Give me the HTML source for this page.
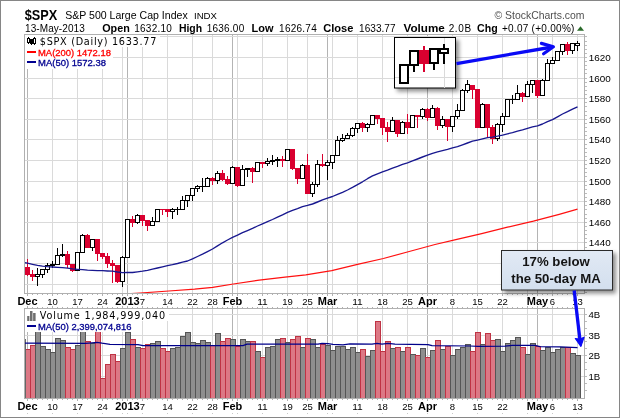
<!DOCTYPE html>
<html lang="en"><head><meta charset="utf-8"><title>$SPX S&amp;P 500 Large Cap Index</title>
<style>html,body{margin:0;padding:0;background:#fff;overflow:hidden}body{width:620px;height:418px}svg{will-change:transform}svg text{white-space:pre}</style></head>
<body>
<svg width="620" height="418" viewBox="0 0 620 418" style="display:block">
<defs>
<filter id="sh" x="-20%" y="-20%" width="150%" height="160%"><feGaussianBlur in="SourceAlpha" stdDeviation="2"/><feOffset dx="2.5" dy="2.5"/><feComponentTransfer><feFuncA type="linear" slope="0.45"/></feComponentTransfer><feMerge><feMergeNode/><feMergeNode in="SourceGraphic"/></feMerge></filter>
<linearGradient id="bg" x1="0" y1="0" x2="0" y2="1"><stop offset="0" stop-color="#e1e9f4"/><stop offset="1" stop-color="#d3dfee"/></linearGradient>
<clipPath id="cm"><rect x="25" y="35" width="559" height="258"/></clipPath>
<clipPath id="cv"><rect x="25" y="309" width="559" height="89"/></clipPath>
</defs>
<rect x="0" y="0" width="620" height="418" fill="#fff"/>
<rect x="0.5" y="0.5" width="619" height="417" fill="none" stroke="#868686" stroke-width="1" shape-rendering="crispEdges"/>
<g shape-rendering="crispEdges">
<rect x="27" y="35" width="1" height="258" fill="#b4b4b4"/>
<rect x="52" y="35" width="1" height="258" fill="#dadada"/>
<rect x="77" y="35" width="1" height="258" fill="#dadada"/>
<rect x="102" y="35" width="1" height="258" fill="#dadada"/>
<rect x="122" y="35" width="1" height="258" fill="#dadada"/>
<rect x="127" y="35" width="1" height="258" fill="#b4b4b4"/>
<rect x="142" y="35" width="1" height="258" fill="#dadada"/>
<rect x="167" y="35" width="1" height="258" fill="#dadada"/>
<rect x="192" y="35" width="1" height="258" fill="#dadada"/>
<rect x="212" y="35" width="1" height="258" fill="#dadada"/>
<rect x="232" y="35" width="1" height="258" fill="#b4b4b4"/>
<rect x="237" y="35" width="1" height="258" fill="#dadada"/>
<rect x="262" y="35" width="1" height="258" fill="#dadada"/>
<rect x="287" y="35" width="1" height="258" fill="#dadada"/>
<rect x="307" y="35" width="1" height="258" fill="#dadada"/>
<rect x="327" y="35" width="1" height="258" fill="#b4b4b4"/>
<rect x="332" y="35" width="1" height="258" fill="#dadada"/>
<rect x="357" y="35" width="1" height="258" fill="#dadada"/>
<rect x="382" y="35" width="1" height="258" fill="#dadada"/>
<rect x="407" y="35" width="1" height="258" fill="#dadada"/>
<rect x="427" y="35" width="1" height="258" fill="#b4b4b4"/>
<rect x="452" y="35" width="1" height="258" fill="#dadada"/>
<rect x="477" y="35" width="1" height="258" fill="#dadada"/>
<rect x="502" y="35" width="1" height="258" fill="#dadada"/>
<rect x="527" y="35" width="1" height="258" fill="#dadada"/>
<rect x="537" y="35" width="1" height="258" fill="#b4b4b4"/>
<rect x="552" y="35" width="1" height="258" fill="#dadada"/>
<rect x="577" y="35" width="1" height="258" fill="#dadada"/>
<rect x="27" y="309" width="1" height="89" fill="#b4b4b4"/>
<rect x="52" y="309" width="1" height="89" fill="#dadada"/>
<rect x="77" y="309" width="1" height="89" fill="#dadada"/>
<rect x="102" y="309" width="1" height="89" fill="#dadada"/>
<rect x="122" y="309" width="1" height="89" fill="#dadada"/>
<rect x="127" y="309" width="1" height="89" fill="#b4b4b4"/>
<rect x="142" y="309" width="1" height="89" fill="#dadada"/>
<rect x="167" y="309" width="1" height="89" fill="#dadada"/>
<rect x="192" y="309" width="1" height="89" fill="#dadada"/>
<rect x="212" y="309" width="1" height="89" fill="#dadada"/>
<rect x="232" y="309" width="1" height="89" fill="#b4b4b4"/>
<rect x="237" y="309" width="1" height="89" fill="#dadada"/>
<rect x="262" y="309" width="1" height="89" fill="#dadada"/>
<rect x="287" y="309" width="1" height="89" fill="#dadada"/>
<rect x="307" y="309" width="1" height="89" fill="#dadada"/>
<rect x="327" y="309" width="1" height="89" fill="#b4b4b4"/>
<rect x="332" y="309" width="1" height="89" fill="#dadada"/>
<rect x="357" y="309" width="1" height="89" fill="#dadada"/>
<rect x="382" y="309" width="1" height="89" fill="#dadada"/>
<rect x="407" y="309" width="1" height="89" fill="#dadada"/>
<rect x="427" y="309" width="1" height="89" fill="#b4b4b4"/>
<rect x="452" y="309" width="1" height="89" fill="#dadada"/>
<rect x="477" y="309" width="1" height="89" fill="#dadada"/>
<rect x="502" y="309" width="1" height="89" fill="#dadada"/>
<rect x="527" y="309" width="1" height="89" fill="#dadada"/>
<rect x="537" y="309" width="1" height="89" fill="#b4b4b4"/>
<rect x="552" y="309" width="1" height="89" fill="#dadada"/>
<rect x="577" y="309" width="1" height="89" fill="#dadada"/>
<rect x="25" y="284" width="559" height="1" fill="#dadada"/>
<rect x="25" y="263" width="559" height="1" fill="#dadada"/>
<rect x="25" y="242" width="559" height="1" fill="#dadada"/>
<rect x="25" y="222" width="559" height="1" fill="#dadada"/>
<rect x="25" y="201" width="559" height="1" fill="#dadada"/>
<rect x="25" y="181" width="559" height="1" fill="#dadada"/>
<rect x="25" y="160" width="559" height="1" fill="#dadada"/>
<rect x="25" y="139" width="559" height="1" fill="#dadada"/>
<rect x="25" y="119" width="559" height="1" fill="#dadada"/>
<rect x="25" y="98" width="559" height="1" fill="#dadada"/>
<rect x="25" y="78" width="559" height="1" fill="#dadada"/>
<rect x="25" y="57" width="559" height="1" fill="#dadada"/>
<rect x="25" y="36" width="559" height="1" fill="#dadada"/>
<rect x="25" y="376" width="559" height="1" fill="#dadada"/>
<rect x="25" y="355" width="559" height="1" fill="#dadada"/>
<rect x="25" y="335" width="559" height="1" fill="#dadada"/>
<rect x="25" y="314" width="559" height="1" fill="#dadada"/>
</g>
<g clip-path="url(#cv)" shape-rendering="crispEdges">
<rect x="25.5" y="349.5" width="5" height="49" fill="#dc7885" stroke="#bf3344" stroke-width="1"/>
<rect x="30.5" y="345.5" width="5" height="53" fill="#dc7885" stroke="#bf3344" stroke-width="1"/>
<rect x="35.5" y="330.5" width="5" height="68" fill="#8e8e8e" stroke="#555555" stroke-width="1"/>
<rect x="40.5" y="346.5" width="5" height="52" fill="#8e8e8e" stroke="#555555" stroke-width="1"/>
<rect x="45.5" y="349.5" width="5" height="49" fill="#8e8e8e" stroke="#555555" stroke-width="1"/>
<rect x="50.5" y="352.5" width="5" height="46" fill="#8e8e8e" stroke="#555555" stroke-width="1"/>
<rect x="55.5" y="338.5" width="5" height="60" fill="#8e8e8e" stroke="#555555" stroke-width="1"/>
<rect x="60.5" y="340.5" width="5" height="58" fill="#8e8e8e" stroke="#555555" stroke-width="1"/>
<rect x="65.5" y="347.5" width="5" height="51" fill="#dc7885" stroke="#bf3344" stroke-width="1"/>
<rect x="70.5" y="349.5" width="5" height="49" fill="#dc7885" stroke="#bf3344" stroke-width="1"/>
<rect x="75.5" y="345.5" width="5" height="53" fill="#8e8e8e" stroke="#555555" stroke-width="1"/>
<rect x="80.5" y="330.5" width="5" height="68" fill="#8e8e8e" stroke="#555555" stroke-width="1"/>
<rect x="85.5" y="341.5" width="5" height="57" fill="#dc7885" stroke="#bf3344" stroke-width="1"/>
<rect x="90.5" y="343.5" width="5" height="55" fill="#8e8e8e" stroke="#555555" stroke-width="1"/>
<rect x="95.5" y="330.5" width="5" height="68" fill="#dc7885" stroke="#bf3344" stroke-width="1"/>
<rect x="100.5" y="378.5" width="5" height="20" fill="#dc7885" stroke="#bf3344" stroke-width="1"/>
<rect x="105.5" y="364.5" width="5" height="34" fill="#dc7885" stroke="#bf3344" stroke-width="1"/>
<rect x="110.5" y="354.5" width="5" height="44" fill="#dc7885" stroke="#bf3344" stroke-width="1"/>
<rect x="115.5" y="361.5" width="5" height="37" fill="#dc7885" stroke="#bf3344" stroke-width="1"/>
<rect x="120.5" y="348.5" width="5" height="50" fill="#8e8e8e" stroke="#555555" stroke-width="1"/>
<rect x="125.5" y="332.5" width="5" height="66" fill="#8e8e8e" stroke="#555555" stroke-width="1"/>
<rect x="130.5" y="339.5" width="5" height="59" fill="#dc7885" stroke="#bf3344" stroke-width="1"/>
<rect x="135.5" y="347.5" width="5" height="51" fill="#8e8e8e" stroke="#555555" stroke-width="1"/>
<rect x="140.5" y="348.5" width="5" height="50" fill="#dc7885" stroke="#bf3344" stroke-width="1"/>
<rect x="145.5" y="344.5" width="5" height="54" fill="#dc7885" stroke="#bf3344" stroke-width="1"/>
<rect x="150.5" y="343.5" width="5" height="55" fill="#8e8e8e" stroke="#555555" stroke-width="1"/>
<rect x="155.5" y="341.5" width="5" height="57" fill="#8e8e8e" stroke="#555555" stroke-width="1"/>
<rect x="160.5" y="348.5" width="5" height="50" fill="#dc7885" stroke="#bf3344" stroke-width="1"/>
<rect x="165.5" y="351.5" width="5" height="47" fill="#dc7885" stroke="#bf3344" stroke-width="1"/>
<rect x="170.5" y="348.5" width="5" height="50" fill="#8e8e8e" stroke="#555555" stroke-width="1"/>
<rect x="175.5" y="347.5" width="5" height="51" fill="#8e8e8e" stroke="#555555" stroke-width="1"/>
<rect x="180.5" y="336.5" width="5" height="62" fill="#8e8e8e" stroke="#555555" stroke-width="1"/>
<rect x="185.5" y="332.5" width="5" height="66" fill="#8e8e8e" stroke="#555555" stroke-width="1"/>
<rect x="190.5" y="342.5" width="5" height="56" fill="#8e8e8e" stroke="#555555" stroke-width="1"/>
<rect x="195.5" y="343.5" width="5" height="55" fill="#8e8e8e" stroke="#555555" stroke-width="1"/>
<rect x="200.5" y="340.5" width="5" height="58" fill="#8e8e8e" stroke="#555555" stroke-width="1"/>
<rect x="205.5" y="342.5" width="5" height="56" fill="#8e8e8e" stroke="#555555" stroke-width="1"/>
<rect x="210.5" y="345.5" width="5" height="53" fill="#dc7885" stroke="#bf3344" stroke-width="1"/>
<rect x="215.5" y="333.5" width="5" height="65" fill="#8e8e8e" stroke="#555555" stroke-width="1"/>
<rect x="220.5" y="341.5" width="5" height="57" fill="#dc7885" stroke="#bf3344" stroke-width="1"/>
<rect x="225.5" y="338.5" width="5" height="60" fill="#dc7885" stroke="#bf3344" stroke-width="1"/>
<rect x="230.5" y="339.5" width="5" height="59" fill="#8e8e8e" stroke="#555555" stroke-width="1"/>
<rect x="235.5" y="346.5" width="5" height="52" fill="#dc7885" stroke="#bf3344" stroke-width="1"/>
<rect x="240.5" y="339.5" width="5" height="59" fill="#8e8e8e" stroke="#555555" stroke-width="1"/>
<rect x="245.5" y="341.5" width="5" height="57" fill="#8e8e8e" stroke="#555555" stroke-width="1"/>
<rect x="250.5" y="341.5" width="5" height="57" fill="#dc7885" stroke="#bf3344" stroke-width="1"/>
<rect x="255.5" y="351.5" width="5" height="47" fill="#8e8e8e" stroke="#555555" stroke-width="1"/>
<rect x="260.5" y="357.5" width="5" height="41" fill="#dc7885" stroke="#bf3344" stroke-width="1"/>
<rect x="265.5" y="347.5" width="5" height="51" fill="#8e8e8e" stroke="#555555" stroke-width="1"/>
<rect x="270.5" y="346.5" width="5" height="52" fill="#8e8e8e" stroke="#555555" stroke-width="1"/>
<rect x="275.5" y="339.5" width="5" height="59" fill="#8e8e8e" stroke="#555555" stroke-width="1"/>
<rect x="280.5" y="338.5" width="5" height="60" fill="#dc7885" stroke="#bf3344" stroke-width="1"/>
<rect x="285.5" y="342.5" width="5" height="56" fill="#8e8e8e" stroke="#555555" stroke-width="1"/>
<rect x="290.5" y="339.5" width="5" height="59" fill="#dc7885" stroke="#bf3344" stroke-width="1"/>
<rect x="295.5" y="336.5" width="5" height="62" fill="#dc7885" stroke="#bf3344" stroke-width="1"/>
<rect x="300.5" y="347.5" width="5" height="51" fill="#8e8e8e" stroke="#555555" stroke-width="1"/>
<rect x="305.5" y="338.5" width="5" height="60" fill="#dc7885" stroke="#bf3344" stroke-width="1"/>
<rect x="310.5" y="339.5" width="5" height="59" fill="#8e8e8e" stroke="#555555" stroke-width="1"/>
<rect x="315.5" y="347.5" width="5" height="51" fill="#8e8e8e" stroke="#555555" stroke-width="1"/>
<rect x="320.5" y="344.5" width="5" height="54" fill="#dc7885" stroke="#bf3344" stroke-width="1"/>
<rect x="325.5" y="345.5" width="5" height="53" fill="#8e8e8e" stroke="#555555" stroke-width="1"/>
<rect x="330.5" y="350.5" width="5" height="48" fill="#8e8e8e" stroke="#555555" stroke-width="1"/>
<rect x="335.5" y="346.5" width="5" height="52" fill="#8e8e8e" stroke="#555555" stroke-width="1"/>
<rect x="340.5" y="346.5" width="5" height="52" fill="#8e8e8e" stroke="#555555" stroke-width="1"/>
<rect x="345.5" y="349.5" width="5" height="49" fill="#8e8e8e" stroke="#555555" stroke-width="1"/>
<rect x="350.5" y="347.5" width="5" height="51" fill="#8e8e8e" stroke="#555555" stroke-width="1"/>
<rect x="355.5" y="352.5" width="5" height="46" fill="#8e8e8e" stroke="#555555" stroke-width="1"/>
<rect x="360.5" y="349.5" width="5" height="49" fill="#dc7885" stroke="#bf3344" stroke-width="1"/>
<rect x="365.5" y="356.5" width="5" height="42" fill="#8e8e8e" stroke="#555555" stroke-width="1"/>
<rect x="370.5" y="350.5" width="5" height="48" fill="#8e8e8e" stroke="#555555" stroke-width="1"/>
<rect x="375.5" y="321.5" width="5" height="77" fill="#dc7885" stroke="#bf3344" stroke-width="1"/>
<rect x="380.5" y="351.5" width="5" height="47" fill="#dc7885" stroke="#bf3344" stroke-width="1"/>
<rect x="385.5" y="341.5" width="5" height="57" fill="#dc7885" stroke="#bf3344" stroke-width="1"/>
<rect x="390.5" y="348.5" width="5" height="50" fill="#8e8e8e" stroke="#555555" stroke-width="1"/>
<rect x="395.5" y="347.5" width="5" height="51" fill="#dc7885" stroke="#bf3344" stroke-width="1"/>
<rect x="400.5" y="351.5" width="5" height="47" fill="#8e8e8e" stroke="#555555" stroke-width="1"/>
<rect x="405.5" y="347.5" width="5" height="51" fill="#dc7885" stroke="#bf3344" stroke-width="1"/>
<rect x="410.5" y="354.5" width="5" height="44" fill="#8e8e8e" stroke="#555555" stroke-width="1"/>
<rect x="415.5" y="355.5" width="5" height="43" fill="#dc7885" stroke="#bf3344" stroke-width="1"/>
<rect x="420.5" y="348.5" width="5" height="50" fill="#8e8e8e" stroke="#555555" stroke-width="1"/>
<rect x="425.5" y="357.5" width="5" height="41" fill="#dc7885" stroke="#bf3344" stroke-width="1"/>
<rect x="430.5" y="350.5" width="5" height="48" fill="#8e8e8e" stroke="#555555" stroke-width="1"/>
<rect x="435.5" y="340.5" width="5" height="58" fill="#dc7885" stroke="#bf3344" stroke-width="1"/>
<rect x="440.5" y="349.5" width="5" height="49" fill="#8e8e8e" stroke="#555555" stroke-width="1"/>
<rect x="445.5" y="346.5" width="5" height="52" fill="#dc7885" stroke="#bf3344" stroke-width="1"/>
<rect x="450.5" y="355.5" width="5" height="43" fill="#8e8e8e" stroke="#555555" stroke-width="1"/>
<rect x="455.5" y="349.5" width="5" height="49" fill="#8e8e8e" stroke="#555555" stroke-width="1"/>
<rect x="460.5" y="347.5" width="5" height="51" fill="#8e8e8e" stroke="#555555" stroke-width="1"/>
<rect x="465.5" y="344.5" width="5" height="54" fill="#8e8e8e" stroke="#555555" stroke-width="1"/>
<rect x="470.5" y="351.5" width="5" height="47" fill="#dc7885" stroke="#bf3344" stroke-width="1"/>
<rect x="475.5" y="332.5" width="5" height="66" fill="#dc7885" stroke="#bf3344" stroke-width="1"/>
<rect x="480.5" y="344.5" width="5" height="54" fill="#8e8e8e" stroke="#555555" stroke-width="1"/>
<rect x="485.5" y="333.5" width="5" height="65" fill="#dc7885" stroke="#bf3344" stroke-width="1"/>
<rect x="490.5" y="340.5" width="5" height="58" fill="#dc7885" stroke="#bf3344" stroke-width="1"/>
<rect x="495.5" y="339.5" width="5" height="59" fill="#8e8e8e" stroke="#555555" stroke-width="1"/>
<rect x="500.5" y="351.5" width="5" height="47" fill="#8e8e8e" stroke="#555555" stroke-width="1"/>
<rect x="505.5" y="343.5" width="5" height="55" fill="#8e8e8e" stroke="#555555" stroke-width="1"/>
<rect x="510.5" y="340.5" width="5" height="58" fill="#8e8e8e" stroke="#555555" stroke-width="1"/>
<rect x="515.5" y="337.5" width="5" height="61" fill="#8e8e8e" stroke="#555555" stroke-width="1"/>
<rect x="520.5" y="347.5" width="5" height="51" fill="#dc7885" stroke="#bf3344" stroke-width="1"/>
<rect x="525.5" y="354.5" width="5" height="44" fill="#8e8e8e" stroke="#555555" stroke-width="1"/>
<rect x="530.5" y="343.5" width="5" height="55" fill="#8e8e8e" stroke="#555555" stroke-width="1"/>
<rect x="535.5" y="346.5" width="5" height="52" fill="#dc7885" stroke="#bf3344" stroke-width="1"/>
<rect x="540.5" y="350.5" width="5" height="48" fill="#8e8e8e" stroke="#555555" stroke-width="1"/>
<rect x="545.5" y="347.5" width="5" height="51" fill="#8e8e8e" stroke="#555555" stroke-width="1"/>
<rect x="550.5" y="352.5" width="5" height="46" fill="#8e8e8e" stroke="#555555" stroke-width="1"/>
<rect x="555.5" y="349.5" width="5" height="49" fill="#8e8e8e" stroke="#555555" stroke-width="1"/>
<rect x="560.5" y="347.5" width="5" height="51" fill="#8e8e8e" stroke="#555555" stroke-width="1"/>
<rect x="565.5" y="347.5" width="5" height="51" fill="#dc7885" stroke="#bf3344" stroke-width="1"/>
<rect x="570.5" y="353.5" width="5" height="45" fill="#8e8e8e" stroke="#555555" stroke-width="1"/>
<rect x="575.5" y="355.5" width="5" height="43" fill="#8e8e8e" stroke="#555555" stroke-width="1"/>
<rect x="25" y="339" width="1" height="59" fill="#666"/>
</g>
<polyline points="25.0,343.2 85.0,343.4 92.0,342.8 97.0,342.3 102.0,343.2 110.0,344.4 138.0,344.6 143.0,345.7 243.0,345.7 247.0,344.1 318.0,344.1 322.0,343.4 328.0,343.6 333.0,344.4 343.0,344.9 350.0,344.0 372.0,344.1 377.0,343.3 382.0,344.0 388.0,343.4 395.0,344.2 428.0,344.6 432.0,345.7 470.0,346.0 478.0,346.3 505.0,346.2 512.0,345.3 535.0,345.3 540.0,346.6 560.0,346.8 577.5,347.6" fill="none" stroke="#00008a" stroke-width="1.25" clip-path="url(#cv)"/>
<g clip-path="url(#cm)" shape-rendering="crispEdges">
<rect x="27" y="259" width="1" height="17" fill="#d9002f"/>
<rect x="25" y="267" width="5" height="8" fill="#d9002f"/>
<rect x="32" y="270" width="1" height="11" fill="#d9002f"/>
<rect x="30" y="274" width="5" height="3" fill="#d9002f"/>
<rect x="37" y="268" width="1" height="18" fill="#000"/>
<rect x="35" y="274" width="5" height="3" fill="#000"/>
<rect x="36" y="275" width="3" height="1" fill="#fff"/>
<rect x="42" y="269" width="1" height="9" fill="#000"/>
<rect x="40" y="269" width="5" height="6" fill="#000"/>
<rect x="41" y="270" width="3" height="4" fill="#fff"/>
<rect x="47" y="263" width="1" height="10" fill="#000"/>
<rect x="45" y="265" width="5" height="5" fill="#000"/>
<rect x="46" y="266" width="3" height="3" fill="#fff"/>
<rect x="52" y="261" width="1" height="7" fill="#000"/>
<rect x="50" y="264" width="5" height="2" fill="#000"/>
<rect x="57" y="248" width="1" height="17" fill="#000"/>
<rect x="55" y="255" width="5" height="10" fill="#000"/>
<rect x="56" y="256" width="3" height="8" fill="#fff"/>
<rect x="62" y="244" width="1" height="13" fill="#000"/>
<rect x="60" y="254" width="5" height="2" fill="#000"/>
<rect x="67" y="251" width="1" height="17" fill="#d9002f"/>
<rect x="65" y="254" width="5" height="11" fill="#d9002f"/>
<rect x="72" y="264" width="1" height="8" fill="#d9002f"/>
<rect x="70" y="264" width="5" height="7" fill="#d9002f"/>
<rect x="77" y="252" width="1" height="19" fill="#000"/>
<rect x="75" y="252" width="5" height="19" fill="#000"/>
<rect x="76" y="253" width="3" height="17" fill="#fff"/>
<rect x="82" y="234" width="1" height="19" fill="#000"/>
<rect x="80" y="235" width="5" height="18" fill="#000"/>
<rect x="81" y="236" width="3" height="16" fill="#fff"/>
<rect x="87" y="234" width="1" height="14" fill="#d9002f"/>
<rect x="85" y="235" width="5" height="13" fill="#d9002f"/>
<rect x="92" y="239" width="1" height="12" fill="#000"/>
<rect x="90" y="239" width="5" height="9" fill="#000"/>
<rect x="91" y="240" width="3" height="7" fill="#fff"/>
<rect x="97" y="239" width="1" height="22" fill="#d9002f"/>
<rect x="95" y="239" width="5" height="15" fill="#d9002f"/>
<rect x="102" y="253" width="1" height="6" fill="#d9002f"/>
<rect x="100" y="253" width="5" height="4" fill="#d9002f"/>
<rect x="107" y="253" width="1" height="15" fill="#d9002f"/>
<rect x="105" y="256" width="5" height="8" fill="#d9002f"/>
<rect x="112" y="260" width="1" height="23" fill="#d9002f"/>
<rect x="110" y="263" width="5" height="3" fill="#d9002f"/>
<rect x="117" y="265" width="1" height="18" fill="#d9002f"/>
<rect x="115" y="265" width="5" height="17" fill="#d9002f"/>
<rect x="122" y="256" width="1" height="31" fill="#000"/>
<rect x="120" y="257" width="5" height="25" fill="#000"/>
<rect x="121" y="258" width="3" height="23" fill="#fff"/>
<rect x="127" y="219" width="1" height="39" fill="#000"/>
<rect x="125" y="219" width="5" height="39" fill="#000"/>
<rect x="126" y="220" width="3" height="37" fill="#fff"/>
<rect x="132" y="216" width="1" height="11" fill="#d9002f"/>
<rect x="130" y="219" width="5" height="4" fill="#d9002f"/>
<rect x="137" y="214" width="1" height="10" fill="#000"/>
<rect x="135" y="215" width="5" height="8" fill="#000"/>
<rect x="136" y="216" width="3" height="6" fill="#fff"/>
<rect x="142" y="215" width="1" height="11" fill="#d9002f"/>
<rect x="140" y="215" width="5" height="6" fill="#d9002f"/>
<rect x="147" y="220" width="1" height="11" fill="#d9002f"/>
<rect x="145" y="220" width="5" height="6" fill="#d9002f"/>
<rect x="152" y="217" width="1" height="9" fill="#000"/>
<rect x="150" y="221" width="5" height="5" fill="#000"/>
<rect x="151" y="222" width="3" height="3" fill="#fff"/>
<rect x="157" y="209" width="1" height="13" fill="#000"/>
<rect x="155" y="209" width="5" height="13" fill="#000"/>
<rect x="156" y="210" width="3" height="11" fill="#fff"/>
<rect x="162" y="209" width="1" height="6" fill="#d9002f"/>
<rect x="160" y="209" width="5" height="1" fill="#d9002f"/>
<rect x="167" y="209" width="1" height="8" fill="#d9002f"/>
<rect x="165" y="209" width="5" height="3" fill="#d9002f"/>
<rect x="172" y="208" width="1" height="11" fill="#000"/>
<rect x="170" y="209" width="5" height="3" fill="#000"/>
<rect x="171" y="210" width="3" height="1" fill="#fff"/>
<rect x="177" y="207" width="1" height="8" fill="#000"/>
<rect x="175" y="209" width="5" height="1" fill="#000"/>
<rect x="182" y="196" width="1" height="14" fill="#000"/>
<rect x="180" y="200" width="5" height="10" fill="#000"/>
<rect x="181" y="201" width="3" height="8" fill="#fff"/>
<rect x="187" y="195" width="1" height="12" fill="#000"/>
<rect x="185" y="195" width="5" height="6" fill="#000"/>
<rect x="186" y="196" width="3" height="4" fill="#fff"/>
<rect x="192" y="188" width="1" height="13" fill="#000"/>
<rect x="190" y="188" width="5" height="8" fill="#000"/>
<rect x="191" y="189" width="3" height="6" fill="#fff"/>
<rect x="197" y="185" width="1" height="7" fill="#000"/>
<rect x="195" y="186" width="5" height="3" fill="#000"/>
<rect x="196" y="187" width="3" height="1" fill="#fff"/>
<rect x="202" y="178" width="1" height="14" fill="#000"/>
<rect x="200" y="186" width="5" height="1" fill="#000"/>
<rect x="207" y="177" width="1" height="10" fill="#000"/>
<rect x="205" y="178" width="5" height="9" fill="#000"/>
<rect x="206" y="179" width="3" height="7" fill="#fff"/>
<rect x="212" y="177" width="1" height="8" fill="#d9002f"/>
<rect x="210" y="178" width="5" height="3" fill="#d9002f"/>
<rect x="217" y="171" width="1" height="13" fill="#000"/>
<rect x="215" y="173" width="5" height="8" fill="#000"/>
<rect x="216" y="174" width="3" height="6" fill="#fff"/>
<rect x="222" y="170" width="1" height="11" fill="#d9002f"/>
<rect x="220" y="173" width="5" height="7" fill="#d9002f"/>
<rect x="227" y="176" width="1" height="9" fill="#d9002f"/>
<rect x="225" y="179" width="5" height="5" fill="#d9002f"/>
<rect x="232" y="166" width="1" height="18" fill="#000"/>
<rect x="230" y="167" width="5" height="17" fill="#000"/>
<rect x="231" y="168" width="3" height="15" fill="#fff"/>
<rect x="237" y="167" width="1" height="20" fill="#d9002f"/>
<rect x="235" y="167" width="5" height="19" fill="#d9002f"/>
<rect x="242" y="165" width="1" height="21" fill="#000"/>
<rect x="240" y="169" width="5" height="17" fill="#000"/>
<rect x="241" y="170" width="3" height="15" fill="#fff"/>
<rect x="247" y="168" width="1" height="9" fill="#000"/>
<rect x="245" y="168" width="5" height="2" fill="#000"/>
<rect x="252" y="167" width="1" height="16" fill="#d9002f"/>
<rect x="250" y="168" width="5" height="4" fill="#d9002f"/>
<rect x="257" y="162" width="1" height="10" fill="#000"/>
<rect x="255" y="162" width="5" height="10" fill="#000"/>
<rect x="256" y="163" width="3" height="8" fill="#fff"/>
<rect x="262" y="162" width="1" height="6" fill="#d9002f"/>
<rect x="260" y="162" width="5" height="2" fill="#d9002f"/>
<rect x="267" y="158" width="1" height="8" fill="#000"/>
<rect x="265" y="161" width="5" height="3" fill="#000"/>
<rect x="266" y="162" width="3" height="1" fill="#fff"/>
<rect x="272" y="155" width="1" height="10" fill="#000"/>
<rect x="270" y="160" width="5" height="2" fill="#000"/>
<rect x="277" y="157" width="1" height="10" fill="#000"/>
<rect x="275" y="159" width="5" height="2" fill="#000"/>
<rect x="282" y="156" width="1" height="11" fill="#d9002f"/>
<rect x="280" y="159" width="5" height="2" fill="#d9002f"/>
<rect x="287" y="149" width="1" height="12" fill="#000"/>
<rect x="285" y="149" width="5" height="12" fill="#000"/>
<rect x="286" y="150" width="3" height="10" fill="#fff"/>
<rect x="292" y="149" width="1" height="21" fill="#d9002f"/>
<rect x="290" y="149" width="5" height="20" fill="#d9002f"/>
<rect x="297" y="168" width="1" height="16" fill="#d9002f"/>
<rect x="295" y="168" width="5" height="11" fill="#d9002f"/>
<rect x="302" y="164" width="1" height="15" fill="#000"/>
<rect x="300" y="165" width="5" height="14" fill="#000"/>
<rect x="301" y="166" width="3" height="12" fill="#fff"/>
<rect x="307" y="154" width="1" height="40" fill="#d9002f"/>
<rect x="305" y="165" width="5" height="29" fill="#d9002f"/>
<rect x="312" y="182" width="1" height="15" fill="#000"/>
<rect x="310" y="184" width="5" height="10" fill="#000"/>
<rect x="311" y="185" width="3" height="8" fill="#fff"/>
<rect x="317" y="160" width="1" height="27" fill="#000"/>
<rect x="315" y="164" width="5" height="21" fill="#000"/>
<rect x="316" y="165" width="3" height="19" fill="#fff"/>
<rect x="322" y="154" width="1" height="13" fill="#d9002f"/>
<rect x="320" y="164" width="5" height="2" fill="#d9002f"/>
<rect x="327" y="160" width="1" height="20" fill="#000"/>
<rect x="325" y="162" width="5" height="4" fill="#000"/>
<rect x="326" y="163" width="3" height="2" fill="#fff"/>
<rect x="332" y="155" width="1" height="14" fill="#000"/>
<rect x="330" y="155" width="5" height="8" fill="#000"/>
<rect x="331" y="156" width="3" height="6" fill="#fff"/>
<rect x="337" y="136" width="1" height="20" fill="#000"/>
<rect x="335" y="140" width="5" height="16" fill="#000"/>
<rect x="336" y="141" width="3" height="14" fill="#fff"/>
<rect x="342" y="134" width="1" height="8" fill="#000"/>
<rect x="340" y="138" width="5" height="3" fill="#000"/>
<rect x="341" y="139" width="3" height="1" fill="#fff"/>
<rect x="347" y="133" width="1" height="6" fill="#000"/>
<rect x="345" y="135" width="5" height="4" fill="#000"/>
<rect x="346" y="136" width="3" height="2" fill="#fff"/>
<rect x="352" y="127" width="1" height="10" fill="#000"/>
<rect x="350" y="128" width="5" height="8" fill="#000"/>
<rect x="351" y="129" width="3" height="6" fill="#fff"/>
<rect x="357" y="123" width="1" height="10" fill="#000"/>
<rect x="355" y="123" width="5" height="6" fill="#000"/>
<rect x="356" y="124" width="3" height="4" fill="#fff"/>
<rect x="362" y="122" width="1" height="10" fill="#d9002f"/>
<rect x="360" y="123" width="5" height="5" fill="#d9002f"/>
<rect x="367" y="123" width="1" height="9" fill="#000"/>
<rect x="365" y="124" width="5" height="4" fill="#000"/>
<rect x="366" y="125" width="3" height="2" fill="#fff"/>
<rect x="372" y="115" width="1" height="10" fill="#000"/>
<rect x="370" y="115" width="5" height="10" fill="#000"/>
<rect x="371" y="116" width="3" height="8" fill="#fff"/>
<rect x="377" y="115" width="1" height="9" fill="#d9002f"/>
<rect x="375" y="115" width="5" height="4" fill="#d9002f"/>
<rect x="382" y="118" width="1" height="17" fill="#d9002f"/>
<rect x="380" y="118" width="5" height="10" fill="#d9002f"/>
<rect x="387" y="122" width="1" height="20" fill="#d9002f"/>
<rect x="385" y="127" width="5" height="5" fill="#d9002f"/>
<rect x="392" y="117" width="1" height="15" fill="#000"/>
<rect x="390" y="120" width="5" height="12" fill="#000"/>
<rect x="391" y="121" width="3" height="10" fill="#fff"/>
<rect x="397" y="120" width="1" height="17" fill="#d9002f"/>
<rect x="395" y="120" width="5" height="14" fill="#d9002f"/>
<rect x="402" y="121" width="1" height="13" fill="#000"/>
<rect x="400" y="122" width="5" height="12" fill="#000"/>
<rect x="401" y="123" width="3" height="10" fill="#fff"/>
<rect x="407" y="114" width="1" height="20" fill="#d9002f"/>
<rect x="405" y="122" width="5" height="6" fill="#d9002f"/>
<rect x="412" y="115" width="1" height="13" fill="#000"/>
<rect x="410" y="115" width="5" height="13" fill="#000"/>
<rect x="411" y="116" width="3" height="11" fill="#fff"/>
<rect x="417" y="115" width="1" height="13" fill="#d9002f"/>
<rect x="415" y="115" width="5" height="2" fill="#d9002f"/>
<rect x="422" y="108" width="1" height="11" fill="#000"/>
<rect x="420" y="109" width="5" height="8" fill="#000"/>
<rect x="421" y="110" width="3" height="6" fill="#fff"/>
<rect x="427" y="108" width="1" height="13" fill="#d9002f"/>
<rect x="425" y="109" width="5" height="9" fill="#d9002f"/>
<rect x="432" y="105" width="1" height="13" fill="#000"/>
<rect x="430" y="108" width="5" height="10" fill="#000"/>
<rect x="431" y="109" width="3" height="8" fill="#fff"/>
<rect x="437" y="107" width="1" height="23" fill="#d9002f"/>
<rect x="435" y="108" width="5" height="18" fill="#d9002f"/>
<rect x="442" y="116" width="1" height="12" fill="#000"/>
<rect x="440" y="119" width="5" height="7" fill="#000"/>
<rect x="441" y="120" width="3" height="5" fill="#fff"/>
<rect x="447" y="119" width="1" height="22" fill="#d9002f"/>
<rect x="445" y="119" width="5" height="8" fill="#d9002f"/>
<rect x="452" y="116" width="1" height="16" fill="#000"/>
<rect x="450" y="116" width="5" height="11" fill="#000"/>
<rect x="451" y="117" width="3" height="9" fill="#fff"/>
<rect x="457" y="104" width="1" height="15" fill="#000"/>
<rect x="455" y="110" width="5" height="7" fill="#000"/>
<rect x="456" y="111" width="3" height="5" fill="#fff"/>
<rect x="462" y="89" width="1" height="22" fill="#000"/>
<rect x="460" y="90" width="5" height="21" fill="#000"/>
<rect x="461" y="91" width="3" height="19" fill="#fff"/>
<rect x="467" y="80" width="1" height="13" fill="#000"/>
<rect x="465" y="84" width="5" height="7" fill="#000"/>
<rect x="466" y="85" width="3" height="5" fill="#fff"/>
<rect x="472" y="85" width="1" height="14" fill="#d9002f"/>
<rect x="470" y="85" width="5" height="5" fill="#d9002f"/>
<rect x="477" y="89" width="1" height="39" fill="#d9002f"/>
<rect x="475" y="89" width="5" height="39" fill="#d9002f"/>
<rect x="482" y="103" width="1" height="25" fill="#000"/>
<rect x="480" y="104" width="5" height="24" fill="#000"/>
<rect x="481" y="105" width="3" height="22" fill="#fff"/>
<rect x="487" y="104" width="1" height="33" fill="#d9002f"/>
<rect x="485" y="104" width="5" height="24" fill="#d9002f"/>
<rect x="492" y="125" width="1" height="19" fill="#d9002f"/>
<rect x="490" y="127" width="5" height="12" fill="#d9002f"/>
<rect x="497" y="123" width="1" height="18" fill="#000"/>
<rect x="495" y="124" width="5" height="15" fill="#000"/>
<rect x="496" y="125" width="3" height="13" fill="#fff"/>
<rect x="502" y="113" width="1" height="19" fill="#000"/>
<rect x="500" y="116" width="5" height="9" fill="#000"/>
<rect x="501" y="117" width="3" height="7" fill="#fff"/>
<rect x="507" y="99" width="1" height="18" fill="#000"/>
<rect x="505" y="99" width="5" height="18" fill="#000"/>
<rect x="506" y="100" width="3" height="16" fill="#fff"/>
<rect x="512" y="95" width="1" height="9" fill="#000"/>
<rect x="510" y="99" width="5" height="1" fill="#000"/>
<rect x="517" y="85" width="1" height="15" fill="#000"/>
<rect x="515" y="93" width="5" height="7" fill="#000"/>
<rect x="516" y="94" width="3" height="5" fill="#fff"/>
<rect x="522" y="92" width="1" height="10" fill="#d9002f"/>
<rect x="520" y="93" width="5" height="4" fill="#d9002f"/>
<rect x="527" y="81" width="1" height="16" fill="#000"/>
<rect x="525" y="84" width="5" height="13" fill="#000"/>
<rect x="526" y="85" width="3" height="11" fill="#fff"/>
<rect x="532" y="80" width="1" height="13" fill="#000"/>
<rect x="530" y="80" width="5" height="5" fill="#000"/>
<rect x="531" y="81" width="3" height="3" fill="#fff"/>
<rect x="537" y="80" width="1" height="18" fill="#d9002f"/>
<rect x="535" y="80" width="5" height="16" fill="#d9002f"/>
<rect x="542" y="79" width="1" height="17" fill="#000"/>
<rect x="540" y="80" width="5" height="16" fill="#000"/>
<rect x="541" y="81" width="3" height="14" fill="#fff"/>
<rect x="547" y="59" width="1" height="22" fill="#000"/>
<rect x="545" y="63" width="5" height="18" fill="#000"/>
<rect x="546" y="64" width="3" height="16" fill="#fff"/>
<rect x="552" y="57" width="1" height="7" fill="#000"/>
<rect x="550" y="60" width="5" height="4" fill="#000"/>
<rect x="551" y="61" width="3" height="2" fill="#fff"/>
<rect x="557" y="51" width="1" height="10" fill="#000"/>
<rect x="555" y="51" width="5" height="10" fill="#000"/>
<rect x="556" y="52" width="3" height="8" fill="#fff"/>
<rect x="562" y="44" width="1" height="11" fill="#000"/>
<rect x="560" y="44" width="5" height="8" fill="#000"/>
<rect x="561" y="45" width="3" height="6" fill="#fff"/>
<rect x="567" y="42" width="1" height="13" fill="#d9002f"/>
<rect x="565" y="44" width="5" height="7" fill="#d9002f"/>
<rect x="572" y="43" width="1" height="11" fill="#000"/>
<rect x="570" y="43" width="5" height="8" fill="#000"/>
<rect x="571" y="44" width="3" height="6" fill="#fff"/>
<rect x="577" y="41" width="1" height="10" fill="#000"/>
<rect x="575" y="43" width="5" height="3" fill="#000"/>
<rect x="576" y="44" width="3" height="1" fill="#fff"/>
</g>
<polyline points="20.0,301.0 140.0,293.0 168.8,291.0 194.6,289.1 212.7,287.3 233.4,284.0 259.2,280.1 285.0,277.2 305.8,274.8 331.7,270.6 357.5,264.4 383.4,258.5 409.2,251.5 435.0,244.5 455.8,239.6 481.7,233.6 507.5,227.2 533.4,221.2 559.2,214.3 577.5,209.2" fill="none" stroke="#ff1010" stroke-width="1.2" stroke-linejoin="round" clip-path="url(#cm)"/>
<polyline points="22.5,262.2 27.5,263.2 32.5,264.3 37.5,265.4 42.5,266.2 47.5,266.7 52.5,267.0 57.5,267.4 62.5,267.7 67.5,268.2 72.5,268.9 77.5,269.3 82.5,269.6 87.5,270.1 92.5,270.4 97.5,270.6 102.5,270.7 107.5,271.0 112.5,271.2 117.5,272.0 122.5,272.6 127.5,272.5 132.5,272.5 137.5,271.8 142.5,271.2 147.5,270.3 152.5,269.2 157.5,268.0 162.5,266.8 167.5,265.6 172.5,264.7 177.5,263.5 182.5,262.1 187.5,261.0 192.5,258.9 197.5,256.5 202.5,254.2 207.5,251.6 212.5,249.0 217.5,245.9 222.5,242.8 227.5,240.0 232.5,237.4 237.5,235.2 242.5,232.7 247.5,230.6 252.5,228.4 257.5,226.0 262.5,223.8 267.5,221.6 272.5,219.5 277.5,217.2 282.5,214.9 287.5,212.4 292.5,210.3 297.5,208.6 302.5,206.6 307.5,205.4 312.5,204.0 317.5,202.0 322.5,199.9 327.5,198.1 332.5,196.5 337.5,194.3 342.5,192.3 347.5,190.0 352.5,187.4 357.5,184.6 362.5,181.8 367.5,178.7 372.5,175.9 377.5,173.8 382.5,171.9 387.5,170.2 392.5,168.2 397.5,166.4 402.5,164.4 407.5,162.8 412.5,160.9 417.5,159.0 422.5,157.0 427.5,155.2 432.5,153.3 437.5,151.9 442.5,150.6 447.5,149.4 452.5,147.9 457.5,146.6 462.5,144.8 467.5,143.0 472.5,141.2 477.5,140.1 482.5,138.9 487.5,137.7 492.5,137.1 497.5,136.2 502.5,135.1 507.5,133.8 512.5,132.6 517.5,131.2 522.5,129.9 527.5,128.4 532.5,126.8 537.5,125.8 542.5,124.0 547.5,121.7 552.5,119.6 557.5,116.8 562.5,114.0 567.5,111.7 572.5,109.2 577.5,106.9" fill="none" stroke="#18188f" stroke-width="1.35" stroke-linejoin="round" clip-path="url(#cm)"/>
<g shape-rendering="crispEdges" fill="none">
<rect x="24.5" y="34.5" width="560" height="259" stroke="#b0b0b0"/>
<rect x="24.5" y="308.5" width="560" height="90" stroke="#b0b0b0"/>
<rect x="27" y="294" width="1" height="2" fill="#b0b0b0"/>
<rect x="27" y="306" width="1" height="2" fill="#b0b0b0"/>
<rect x="27" y="399" width="1" height="2" fill="#b0b0b0"/>
<rect x="27" y="413" width="1" height="1" fill="#c8c8c8"/>
<rect x="32" y="294" width="1" height="1" fill="#b0b0b0"/>
<rect x="32" y="307" width="1" height="1" fill="#b0b0b0"/>
<rect x="32" y="399" width="1" height="1" fill="#b0b0b0"/>
<rect x="37" y="294" width="1" height="1" fill="#b0b0b0"/>
<rect x="37" y="307" width="1" height="1" fill="#b0b0b0"/>
<rect x="37" y="399" width="1" height="1" fill="#b0b0b0"/>
<rect x="42" y="294" width="1" height="1" fill="#b0b0b0"/>
<rect x="42" y="307" width="1" height="1" fill="#b0b0b0"/>
<rect x="42" y="399" width="1" height="1" fill="#b0b0b0"/>
<rect x="47" y="294" width="1" height="1" fill="#b0b0b0"/>
<rect x="47" y="307" width="1" height="1" fill="#b0b0b0"/>
<rect x="47" y="399" width="1" height="1" fill="#b0b0b0"/>
<rect x="52" y="294" width="1" height="2" fill="#b0b0b0"/>
<rect x="52" y="306" width="1" height="2" fill="#b0b0b0"/>
<rect x="52" y="399" width="1" height="2" fill="#b0b0b0"/>
<rect x="52" y="413" width="1" height="1" fill="#c8c8c8"/>
<rect x="57" y="294" width="1" height="1" fill="#b0b0b0"/>
<rect x="57" y="307" width="1" height="1" fill="#b0b0b0"/>
<rect x="57" y="399" width="1" height="1" fill="#b0b0b0"/>
<rect x="62" y="294" width="1" height="1" fill="#b0b0b0"/>
<rect x="62" y="307" width="1" height="1" fill="#b0b0b0"/>
<rect x="62" y="399" width="1" height="1" fill="#b0b0b0"/>
<rect x="67" y="294" width="1" height="1" fill="#b0b0b0"/>
<rect x="67" y="307" width="1" height="1" fill="#b0b0b0"/>
<rect x="67" y="399" width="1" height="1" fill="#b0b0b0"/>
<rect x="72" y="294" width="1" height="1" fill="#b0b0b0"/>
<rect x="72" y="307" width="1" height="1" fill="#b0b0b0"/>
<rect x="72" y="399" width="1" height="1" fill="#b0b0b0"/>
<rect x="77" y="294" width="1" height="2" fill="#b0b0b0"/>
<rect x="77" y="306" width="1" height="2" fill="#b0b0b0"/>
<rect x="77" y="399" width="1" height="2" fill="#b0b0b0"/>
<rect x="77" y="413" width="1" height="1" fill="#c8c8c8"/>
<rect x="82" y="294" width="1" height="1" fill="#b0b0b0"/>
<rect x="82" y="307" width="1" height="1" fill="#b0b0b0"/>
<rect x="82" y="399" width="1" height="1" fill="#b0b0b0"/>
<rect x="87" y="294" width="1" height="1" fill="#b0b0b0"/>
<rect x="87" y="307" width="1" height="1" fill="#b0b0b0"/>
<rect x="87" y="399" width="1" height="1" fill="#b0b0b0"/>
<rect x="92" y="294" width="1" height="1" fill="#b0b0b0"/>
<rect x="92" y="307" width="1" height="1" fill="#b0b0b0"/>
<rect x="92" y="399" width="1" height="1" fill="#b0b0b0"/>
<rect x="97" y="294" width="1" height="1" fill="#b0b0b0"/>
<rect x="97" y="307" width="1" height="1" fill="#b0b0b0"/>
<rect x="97" y="399" width="1" height="1" fill="#b0b0b0"/>
<rect x="102" y="294" width="1" height="2" fill="#b0b0b0"/>
<rect x="102" y="306" width="1" height="2" fill="#b0b0b0"/>
<rect x="102" y="399" width="1" height="2" fill="#b0b0b0"/>
<rect x="102" y="413" width="1" height="1" fill="#c8c8c8"/>
<rect x="107" y="294" width="1" height="1" fill="#b0b0b0"/>
<rect x="107" y="307" width="1" height="1" fill="#b0b0b0"/>
<rect x="107" y="399" width="1" height="1" fill="#b0b0b0"/>
<rect x="112" y="294" width="1" height="1" fill="#b0b0b0"/>
<rect x="112" y="307" width="1" height="1" fill="#b0b0b0"/>
<rect x="112" y="399" width="1" height="1" fill="#b0b0b0"/>
<rect x="117" y="294" width="1" height="1" fill="#b0b0b0"/>
<rect x="117" y="307" width="1" height="1" fill="#b0b0b0"/>
<rect x="117" y="399" width="1" height="1" fill="#b0b0b0"/>
<rect x="122" y="294" width="1" height="2" fill="#b0b0b0"/>
<rect x="122" y="306" width="1" height="2" fill="#b0b0b0"/>
<rect x="122" y="399" width="1" height="2" fill="#b0b0b0"/>
<rect x="122" y="413" width="1" height="1" fill="#c8c8c8"/>
<rect x="127" y="294" width="1" height="2" fill="#b0b0b0"/>
<rect x="127" y="306" width="1" height="2" fill="#b0b0b0"/>
<rect x="127" y="399" width="1" height="2" fill="#b0b0b0"/>
<rect x="127" y="413" width="1" height="1" fill="#c8c8c8"/>
<rect x="132" y="294" width="1" height="1" fill="#b0b0b0"/>
<rect x="132" y="307" width="1" height="1" fill="#b0b0b0"/>
<rect x="132" y="399" width="1" height="1" fill="#b0b0b0"/>
<rect x="137" y="294" width="1" height="1" fill="#b0b0b0"/>
<rect x="137" y="307" width="1" height="1" fill="#b0b0b0"/>
<rect x="137" y="399" width="1" height="1" fill="#b0b0b0"/>
<rect x="142" y="294" width="1" height="2" fill="#b0b0b0"/>
<rect x="142" y="306" width="1" height="2" fill="#b0b0b0"/>
<rect x="142" y="399" width="1" height="2" fill="#b0b0b0"/>
<rect x="142" y="413" width="1" height="1" fill="#c8c8c8"/>
<rect x="147" y="294" width="1" height="1" fill="#b0b0b0"/>
<rect x="147" y="307" width="1" height="1" fill="#b0b0b0"/>
<rect x="147" y="399" width="1" height="1" fill="#b0b0b0"/>
<rect x="152" y="294" width="1" height="1" fill="#b0b0b0"/>
<rect x="152" y="307" width="1" height="1" fill="#b0b0b0"/>
<rect x="152" y="399" width="1" height="1" fill="#b0b0b0"/>
<rect x="157" y="294" width="1" height="1" fill="#b0b0b0"/>
<rect x="157" y="307" width="1" height="1" fill="#b0b0b0"/>
<rect x="157" y="399" width="1" height="1" fill="#b0b0b0"/>
<rect x="162" y="294" width="1" height="1" fill="#b0b0b0"/>
<rect x="162" y="307" width="1" height="1" fill="#b0b0b0"/>
<rect x="162" y="399" width="1" height="1" fill="#b0b0b0"/>
<rect x="167" y="294" width="1" height="2" fill="#b0b0b0"/>
<rect x="167" y="306" width="1" height="2" fill="#b0b0b0"/>
<rect x="167" y="399" width="1" height="2" fill="#b0b0b0"/>
<rect x="167" y="413" width="1" height="1" fill="#c8c8c8"/>
<rect x="172" y="294" width="1" height="1" fill="#b0b0b0"/>
<rect x="172" y="307" width="1" height="1" fill="#b0b0b0"/>
<rect x="172" y="399" width="1" height="1" fill="#b0b0b0"/>
<rect x="177" y="294" width="1" height="1" fill="#b0b0b0"/>
<rect x="177" y="307" width="1" height="1" fill="#b0b0b0"/>
<rect x="177" y="399" width="1" height="1" fill="#b0b0b0"/>
<rect x="182" y="294" width="1" height="1" fill="#b0b0b0"/>
<rect x="182" y="307" width="1" height="1" fill="#b0b0b0"/>
<rect x="182" y="399" width="1" height="1" fill="#b0b0b0"/>
<rect x="187" y="294" width="1" height="1" fill="#b0b0b0"/>
<rect x="187" y="307" width="1" height="1" fill="#b0b0b0"/>
<rect x="187" y="399" width="1" height="1" fill="#b0b0b0"/>
<rect x="192" y="294" width="1" height="2" fill="#b0b0b0"/>
<rect x="192" y="306" width="1" height="2" fill="#b0b0b0"/>
<rect x="192" y="399" width="1" height="2" fill="#b0b0b0"/>
<rect x="192" y="413" width="1" height="1" fill="#c8c8c8"/>
<rect x="197" y="294" width="1" height="1" fill="#b0b0b0"/>
<rect x="197" y="307" width="1" height="1" fill="#b0b0b0"/>
<rect x="197" y="399" width="1" height="1" fill="#b0b0b0"/>
<rect x="202" y="294" width="1" height="1" fill="#b0b0b0"/>
<rect x="202" y="307" width="1" height="1" fill="#b0b0b0"/>
<rect x="202" y="399" width="1" height="1" fill="#b0b0b0"/>
<rect x="207" y="294" width="1" height="1" fill="#b0b0b0"/>
<rect x="207" y="307" width="1" height="1" fill="#b0b0b0"/>
<rect x="207" y="399" width="1" height="1" fill="#b0b0b0"/>
<rect x="212" y="294" width="1" height="2" fill="#b0b0b0"/>
<rect x="212" y="306" width="1" height="2" fill="#b0b0b0"/>
<rect x="212" y="399" width="1" height="2" fill="#b0b0b0"/>
<rect x="212" y="413" width="1" height="1" fill="#c8c8c8"/>
<rect x="217" y="294" width="1" height="1" fill="#b0b0b0"/>
<rect x="217" y="307" width="1" height="1" fill="#b0b0b0"/>
<rect x="217" y="399" width="1" height="1" fill="#b0b0b0"/>
<rect x="222" y="294" width="1" height="1" fill="#b0b0b0"/>
<rect x="222" y="307" width="1" height="1" fill="#b0b0b0"/>
<rect x="222" y="399" width="1" height="1" fill="#b0b0b0"/>
<rect x="227" y="294" width="1" height="1" fill="#b0b0b0"/>
<rect x="227" y="307" width="1" height="1" fill="#b0b0b0"/>
<rect x="227" y="399" width="1" height="1" fill="#b0b0b0"/>
<rect x="232" y="294" width="1" height="2" fill="#b0b0b0"/>
<rect x="232" y="306" width="1" height="2" fill="#b0b0b0"/>
<rect x="232" y="399" width="1" height="2" fill="#b0b0b0"/>
<rect x="232" y="413" width="1" height="1" fill="#c8c8c8"/>
<rect x="237" y="294" width="1" height="2" fill="#b0b0b0"/>
<rect x="237" y="306" width="1" height="2" fill="#b0b0b0"/>
<rect x="237" y="399" width="1" height="2" fill="#b0b0b0"/>
<rect x="237" y="413" width="1" height="1" fill="#c8c8c8"/>
<rect x="242" y="294" width="1" height="1" fill="#b0b0b0"/>
<rect x="242" y="307" width="1" height="1" fill="#b0b0b0"/>
<rect x="242" y="399" width="1" height="1" fill="#b0b0b0"/>
<rect x="247" y="294" width="1" height="1" fill="#b0b0b0"/>
<rect x="247" y="307" width="1" height="1" fill="#b0b0b0"/>
<rect x="247" y="399" width="1" height="1" fill="#b0b0b0"/>
<rect x="252" y="294" width="1" height="1" fill="#b0b0b0"/>
<rect x="252" y="307" width="1" height="1" fill="#b0b0b0"/>
<rect x="252" y="399" width="1" height="1" fill="#b0b0b0"/>
<rect x="257" y="294" width="1" height="1" fill="#b0b0b0"/>
<rect x="257" y="307" width="1" height="1" fill="#b0b0b0"/>
<rect x="257" y="399" width="1" height="1" fill="#b0b0b0"/>
<rect x="262" y="294" width="1" height="2" fill="#b0b0b0"/>
<rect x="262" y="306" width="1" height="2" fill="#b0b0b0"/>
<rect x="262" y="399" width="1" height="2" fill="#b0b0b0"/>
<rect x="262" y="413" width="1" height="1" fill="#c8c8c8"/>
<rect x="267" y="294" width="1" height="1" fill="#b0b0b0"/>
<rect x="267" y="307" width="1" height="1" fill="#b0b0b0"/>
<rect x="267" y="399" width="1" height="1" fill="#b0b0b0"/>
<rect x="272" y="294" width="1" height="1" fill="#b0b0b0"/>
<rect x="272" y="307" width="1" height="1" fill="#b0b0b0"/>
<rect x="272" y="399" width="1" height="1" fill="#b0b0b0"/>
<rect x="277" y="294" width="1" height="1" fill="#b0b0b0"/>
<rect x="277" y="307" width="1" height="1" fill="#b0b0b0"/>
<rect x="277" y="399" width="1" height="1" fill="#b0b0b0"/>
<rect x="282" y="294" width="1" height="1" fill="#b0b0b0"/>
<rect x="282" y="307" width="1" height="1" fill="#b0b0b0"/>
<rect x="282" y="399" width="1" height="1" fill="#b0b0b0"/>
<rect x="287" y="294" width="1" height="2" fill="#b0b0b0"/>
<rect x="287" y="306" width="1" height="2" fill="#b0b0b0"/>
<rect x="287" y="399" width="1" height="2" fill="#b0b0b0"/>
<rect x="287" y="413" width="1" height="1" fill="#c8c8c8"/>
<rect x="292" y="294" width="1" height="1" fill="#b0b0b0"/>
<rect x="292" y="307" width="1" height="1" fill="#b0b0b0"/>
<rect x="292" y="399" width="1" height="1" fill="#b0b0b0"/>
<rect x="297" y="294" width="1" height="1" fill="#b0b0b0"/>
<rect x="297" y="307" width="1" height="1" fill="#b0b0b0"/>
<rect x="297" y="399" width="1" height="1" fill="#b0b0b0"/>
<rect x="302" y="294" width="1" height="1" fill="#b0b0b0"/>
<rect x="302" y="307" width="1" height="1" fill="#b0b0b0"/>
<rect x="302" y="399" width="1" height="1" fill="#b0b0b0"/>
<rect x="307" y="294" width="1" height="2" fill="#b0b0b0"/>
<rect x="307" y="306" width="1" height="2" fill="#b0b0b0"/>
<rect x="307" y="399" width="1" height="2" fill="#b0b0b0"/>
<rect x="307" y="413" width="1" height="1" fill="#c8c8c8"/>
<rect x="312" y="294" width="1" height="1" fill="#b0b0b0"/>
<rect x="312" y="307" width="1" height="1" fill="#b0b0b0"/>
<rect x="312" y="399" width="1" height="1" fill="#b0b0b0"/>
<rect x="317" y="294" width="1" height="1" fill="#b0b0b0"/>
<rect x="317" y="307" width="1" height="1" fill="#b0b0b0"/>
<rect x="317" y="399" width="1" height="1" fill="#b0b0b0"/>
<rect x="322" y="294" width="1" height="1" fill="#b0b0b0"/>
<rect x="322" y="307" width="1" height="1" fill="#b0b0b0"/>
<rect x="322" y="399" width="1" height="1" fill="#b0b0b0"/>
<rect x="327" y="294" width="1" height="2" fill="#b0b0b0"/>
<rect x="327" y="306" width="1" height="2" fill="#b0b0b0"/>
<rect x="327" y="399" width="1" height="2" fill="#b0b0b0"/>
<rect x="327" y="413" width="1" height="1" fill="#c8c8c8"/>
<rect x="332" y="294" width="1" height="2" fill="#b0b0b0"/>
<rect x="332" y="306" width="1" height="2" fill="#b0b0b0"/>
<rect x="332" y="399" width="1" height="2" fill="#b0b0b0"/>
<rect x="332" y="413" width="1" height="1" fill="#c8c8c8"/>
<rect x="337" y="294" width="1" height="1" fill="#b0b0b0"/>
<rect x="337" y="307" width="1" height="1" fill="#b0b0b0"/>
<rect x="337" y="399" width="1" height="1" fill="#b0b0b0"/>
<rect x="342" y="294" width="1" height="1" fill="#b0b0b0"/>
<rect x="342" y="307" width="1" height="1" fill="#b0b0b0"/>
<rect x="342" y="399" width="1" height="1" fill="#b0b0b0"/>
<rect x="347" y="294" width="1" height="1" fill="#b0b0b0"/>
<rect x="347" y="307" width="1" height="1" fill="#b0b0b0"/>
<rect x="347" y="399" width="1" height="1" fill="#b0b0b0"/>
<rect x="352" y="294" width="1" height="1" fill="#b0b0b0"/>
<rect x="352" y="307" width="1" height="1" fill="#b0b0b0"/>
<rect x="352" y="399" width="1" height="1" fill="#b0b0b0"/>
<rect x="357" y="294" width="1" height="2" fill="#b0b0b0"/>
<rect x="357" y="306" width="1" height="2" fill="#b0b0b0"/>
<rect x="357" y="399" width="1" height="2" fill="#b0b0b0"/>
<rect x="357" y="413" width="1" height="1" fill="#c8c8c8"/>
<rect x="362" y="294" width="1" height="1" fill="#b0b0b0"/>
<rect x="362" y="307" width="1" height="1" fill="#b0b0b0"/>
<rect x="362" y="399" width="1" height="1" fill="#b0b0b0"/>
<rect x="367" y="294" width="1" height="1" fill="#b0b0b0"/>
<rect x="367" y="307" width="1" height="1" fill="#b0b0b0"/>
<rect x="367" y="399" width="1" height="1" fill="#b0b0b0"/>
<rect x="372" y="294" width="1" height="1" fill="#b0b0b0"/>
<rect x="372" y="307" width="1" height="1" fill="#b0b0b0"/>
<rect x="372" y="399" width="1" height="1" fill="#b0b0b0"/>
<rect x="377" y="294" width="1" height="1" fill="#b0b0b0"/>
<rect x="377" y="307" width="1" height="1" fill="#b0b0b0"/>
<rect x="377" y="399" width="1" height="1" fill="#b0b0b0"/>
<rect x="382" y="294" width="1" height="2" fill="#b0b0b0"/>
<rect x="382" y="306" width="1" height="2" fill="#b0b0b0"/>
<rect x="382" y="399" width="1" height="2" fill="#b0b0b0"/>
<rect x="382" y="413" width="1" height="1" fill="#c8c8c8"/>
<rect x="387" y="294" width="1" height="1" fill="#b0b0b0"/>
<rect x="387" y="307" width="1" height="1" fill="#b0b0b0"/>
<rect x="387" y="399" width="1" height="1" fill="#b0b0b0"/>
<rect x="392" y="294" width="1" height="1" fill="#b0b0b0"/>
<rect x="392" y="307" width="1" height="1" fill="#b0b0b0"/>
<rect x="392" y="399" width="1" height="1" fill="#b0b0b0"/>
<rect x="397" y="294" width="1" height="1" fill="#b0b0b0"/>
<rect x="397" y="307" width="1" height="1" fill="#b0b0b0"/>
<rect x="397" y="399" width="1" height="1" fill="#b0b0b0"/>
<rect x="402" y="294" width="1" height="1" fill="#b0b0b0"/>
<rect x="402" y="307" width="1" height="1" fill="#b0b0b0"/>
<rect x="402" y="399" width="1" height="1" fill="#b0b0b0"/>
<rect x="407" y="294" width="1" height="2" fill="#b0b0b0"/>
<rect x="407" y="306" width="1" height="2" fill="#b0b0b0"/>
<rect x="407" y="399" width="1" height="2" fill="#b0b0b0"/>
<rect x="407" y="413" width="1" height="1" fill="#c8c8c8"/>
<rect x="412" y="294" width="1" height="1" fill="#b0b0b0"/>
<rect x="412" y="307" width="1" height="1" fill="#b0b0b0"/>
<rect x="412" y="399" width="1" height="1" fill="#b0b0b0"/>
<rect x="417" y="294" width="1" height="1" fill="#b0b0b0"/>
<rect x="417" y="307" width="1" height="1" fill="#b0b0b0"/>
<rect x="417" y="399" width="1" height="1" fill="#b0b0b0"/>
<rect x="422" y="294" width="1" height="1" fill="#b0b0b0"/>
<rect x="422" y="307" width="1" height="1" fill="#b0b0b0"/>
<rect x="422" y="399" width="1" height="1" fill="#b0b0b0"/>
<rect x="427" y="294" width="1" height="2" fill="#b0b0b0"/>
<rect x="427" y="306" width="1" height="2" fill="#b0b0b0"/>
<rect x="427" y="399" width="1" height="2" fill="#b0b0b0"/>
<rect x="427" y="413" width="1" height="1" fill="#c8c8c8"/>
<rect x="432" y="294" width="1" height="1" fill="#b0b0b0"/>
<rect x="432" y="307" width="1" height="1" fill="#b0b0b0"/>
<rect x="432" y="399" width="1" height="1" fill="#b0b0b0"/>
<rect x="437" y="294" width="1" height="1" fill="#b0b0b0"/>
<rect x="437" y="307" width="1" height="1" fill="#b0b0b0"/>
<rect x="437" y="399" width="1" height="1" fill="#b0b0b0"/>
<rect x="442" y="294" width="1" height="1" fill="#b0b0b0"/>
<rect x="442" y="307" width="1" height="1" fill="#b0b0b0"/>
<rect x="442" y="399" width="1" height="1" fill="#b0b0b0"/>
<rect x="447" y="294" width="1" height="1" fill="#b0b0b0"/>
<rect x="447" y="307" width="1" height="1" fill="#b0b0b0"/>
<rect x="447" y="399" width="1" height="1" fill="#b0b0b0"/>
<rect x="452" y="294" width="1" height="2" fill="#b0b0b0"/>
<rect x="452" y="306" width="1" height="2" fill="#b0b0b0"/>
<rect x="452" y="399" width="1" height="2" fill="#b0b0b0"/>
<rect x="452" y="413" width="1" height="1" fill="#c8c8c8"/>
<rect x="457" y="294" width="1" height="1" fill="#b0b0b0"/>
<rect x="457" y="307" width="1" height="1" fill="#b0b0b0"/>
<rect x="457" y="399" width="1" height="1" fill="#b0b0b0"/>
<rect x="462" y="294" width="1" height="1" fill="#b0b0b0"/>
<rect x="462" y="307" width="1" height="1" fill="#b0b0b0"/>
<rect x="462" y="399" width="1" height="1" fill="#b0b0b0"/>
<rect x="467" y="294" width="1" height="1" fill="#b0b0b0"/>
<rect x="467" y="307" width="1" height="1" fill="#b0b0b0"/>
<rect x="467" y="399" width="1" height="1" fill="#b0b0b0"/>
<rect x="472" y="294" width="1" height="1" fill="#b0b0b0"/>
<rect x="472" y="307" width="1" height="1" fill="#b0b0b0"/>
<rect x="472" y="399" width="1" height="1" fill="#b0b0b0"/>
<rect x="477" y="294" width="1" height="2" fill="#b0b0b0"/>
<rect x="477" y="306" width="1" height="2" fill="#b0b0b0"/>
<rect x="477" y="399" width="1" height="2" fill="#b0b0b0"/>
<rect x="477" y="413" width="1" height="1" fill="#c8c8c8"/>
<rect x="482" y="294" width="1" height="1" fill="#b0b0b0"/>
<rect x="482" y="307" width="1" height="1" fill="#b0b0b0"/>
<rect x="482" y="399" width="1" height="1" fill="#b0b0b0"/>
<rect x="487" y="294" width="1" height="1" fill="#b0b0b0"/>
<rect x="487" y="307" width="1" height="1" fill="#b0b0b0"/>
<rect x="487" y="399" width="1" height="1" fill="#b0b0b0"/>
<rect x="492" y="294" width="1" height="1" fill="#b0b0b0"/>
<rect x="492" y="307" width="1" height="1" fill="#b0b0b0"/>
<rect x="492" y="399" width="1" height="1" fill="#b0b0b0"/>
<rect x="497" y="294" width="1" height="1" fill="#b0b0b0"/>
<rect x="497" y="307" width="1" height="1" fill="#b0b0b0"/>
<rect x="497" y="399" width="1" height="1" fill="#b0b0b0"/>
<rect x="502" y="294" width="1" height="2" fill="#b0b0b0"/>
<rect x="502" y="306" width="1" height="2" fill="#b0b0b0"/>
<rect x="502" y="399" width="1" height="2" fill="#b0b0b0"/>
<rect x="502" y="413" width="1" height="1" fill="#c8c8c8"/>
<rect x="507" y="294" width="1" height="1" fill="#b0b0b0"/>
<rect x="507" y="307" width="1" height="1" fill="#b0b0b0"/>
<rect x="507" y="399" width="1" height="1" fill="#b0b0b0"/>
<rect x="512" y="294" width="1" height="1" fill="#b0b0b0"/>
<rect x="512" y="307" width="1" height="1" fill="#b0b0b0"/>
<rect x="512" y="399" width="1" height="1" fill="#b0b0b0"/>
<rect x="517" y="294" width="1" height="1" fill="#b0b0b0"/>
<rect x="517" y="307" width="1" height="1" fill="#b0b0b0"/>
<rect x="517" y="399" width="1" height="1" fill="#b0b0b0"/>
<rect x="522" y="294" width="1" height="1" fill="#b0b0b0"/>
<rect x="522" y="307" width="1" height="1" fill="#b0b0b0"/>
<rect x="522" y="399" width="1" height="1" fill="#b0b0b0"/>
<rect x="527" y="294" width="1" height="2" fill="#b0b0b0"/>
<rect x="527" y="306" width="1" height="2" fill="#b0b0b0"/>
<rect x="527" y="399" width="1" height="2" fill="#b0b0b0"/>
<rect x="527" y="413" width="1" height="1" fill="#c8c8c8"/>
<rect x="532" y="294" width="1" height="1" fill="#b0b0b0"/>
<rect x="532" y="307" width="1" height="1" fill="#b0b0b0"/>
<rect x="532" y="399" width="1" height="1" fill="#b0b0b0"/>
<rect x="537" y="294" width="1" height="2" fill="#b0b0b0"/>
<rect x="537" y="306" width="1" height="2" fill="#b0b0b0"/>
<rect x="537" y="399" width="1" height="2" fill="#b0b0b0"/>
<rect x="537" y="413" width="1" height="1" fill="#c8c8c8"/>
<rect x="542" y="294" width="1" height="1" fill="#b0b0b0"/>
<rect x="542" y="307" width="1" height="1" fill="#b0b0b0"/>
<rect x="542" y="399" width="1" height="1" fill="#b0b0b0"/>
<rect x="547" y="294" width="1" height="1" fill="#b0b0b0"/>
<rect x="547" y="307" width="1" height="1" fill="#b0b0b0"/>
<rect x="547" y="399" width="1" height="1" fill="#b0b0b0"/>
<rect x="552" y="294" width="1" height="2" fill="#b0b0b0"/>
<rect x="552" y="306" width="1" height="2" fill="#b0b0b0"/>
<rect x="552" y="399" width="1" height="2" fill="#b0b0b0"/>
<rect x="552" y="413" width="1" height="1" fill="#c8c8c8"/>
<rect x="557" y="294" width="1" height="1" fill="#b0b0b0"/>
<rect x="557" y="307" width="1" height="1" fill="#b0b0b0"/>
<rect x="557" y="399" width="1" height="1" fill="#b0b0b0"/>
<rect x="562" y="294" width="1" height="1" fill="#b0b0b0"/>
<rect x="562" y="307" width="1" height="1" fill="#b0b0b0"/>
<rect x="562" y="399" width="1" height="1" fill="#b0b0b0"/>
<rect x="567" y="294" width="1" height="1" fill="#b0b0b0"/>
<rect x="567" y="307" width="1" height="1" fill="#b0b0b0"/>
<rect x="567" y="399" width="1" height="1" fill="#b0b0b0"/>
<rect x="572" y="294" width="1" height="1" fill="#b0b0b0"/>
<rect x="572" y="307" width="1" height="1" fill="#b0b0b0"/>
<rect x="572" y="399" width="1" height="1" fill="#b0b0b0"/>
<rect x="577" y="294" width="1" height="2" fill="#b0b0b0"/>
<rect x="577" y="306" width="1" height="2" fill="#b0b0b0"/>
<rect x="577" y="399" width="1" height="2" fill="#b0b0b0"/>
<rect x="577" y="413" width="1" height="1" fill="#c8c8c8"/>
<rect x="585" y="292" width="2" height="1" fill="#bcbcbc"/>
<rect x="585" y="288" width="2" height="1" fill="#bcbcbc"/>
<rect x="585" y="284" width="2" height="1" fill="#bcbcbc"/>
<rect x="585" y="279" width="2" height="1" fill="#bcbcbc"/>
<rect x="585" y="275" width="2" height="1" fill="#bcbcbc"/>
<rect x="585" y="271" width="2" height="1" fill="#bcbcbc"/>
<rect x="585" y="267" width="2" height="1" fill="#bcbcbc"/>
<rect x="585" y="263" width="2" height="1" fill="#bcbcbc"/>
<rect x="585" y="259" width="2" height="1" fill="#bcbcbc"/>
<rect x="585" y="255" width="2" height="1" fill="#bcbcbc"/>
<rect x="585" y="251" width="2" height="1" fill="#bcbcbc"/>
<rect x="585" y="247" width="2" height="1" fill="#bcbcbc"/>
<rect x="585" y="242" width="2" height="1" fill="#bcbcbc"/>
<rect x="585" y="238" width="2" height="1" fill="#bcbcbc"/>
<rect x="585" y="234" width="2" height="1" fill="#bcbcbc"/>
<rect x="585" y="230" width="2" height="1" fill="#bcbcbc"/>
<rect x="585" y="226" width="2" height="1" fill="#bcbcbc"/>
<rect x="585" y="222" width="2" height="1" fill="#bcbcbc"/>
<rect x="585" y="218" width="2" height="1" fill="#bcbcbc"/>
<rect x="585" y="214" width="2" height="1" fill="#bcbcbc"/>
<rect x="585" y="209" width="2" height="1" fill="#bcbcbc"/>
<rect x="585" y="205" width="2" height="1" fill="#bcbcbc"/>
<rect x="585" y="201" width="2" height="1" fill="#bcbcbc"/>
<rect x="585" y="197" width="2" height="1" fill="#bcbcbc"/>
<rect x="585" y="193" width="2" height="1" fill="#bcbcbc"/>
<rect x="585" y="189" width="2" height="1" fill="#bcbcbc"/>
<rect x="585" y="185" width="2" height="1" fill="#bcbcbc"/>
<rect x="585" y="181" width="2" height="1" fill="#bcbcbc"/>
<rect x="585" y="176" width="2" height="1" fill="#bcbcbc"/>
<rect x="585" y="172" width="2" height="1" fill="#bcbcbc"/>
<rect x="585" y="168" width="2" height="1" fill="#bcbcbc"/>
<rect x="585" y="164" width="2" height="1" fill="#bcbcbc"/>
<rect x="585" y="160" width="2" height="1" fill="#bcbcbc"/>
<rect x="585" y="156" width="2" height="1" fill="#bcbcbc"/>
<rect x="585" y="152" width="2" height="1" fill="#bcbcbc"/>
<rect x="585" y="148" width="2" height="1" fill="#bcbcbc"/>
<rect x="585" y="144" width="2" height="1" fill="#bcbcbc"/>
<rect x="585" y="139" width="2" height="1" fill="#bcbcbc"/>
<rect x="585" y="135" width="2" height="1" fill="#bcbcbc"/>
<rect x="585" y="131" width="2" height="1" fill="#bcbcbc"/>
<rect x="585" y="127" width="2" height="1" fill="#bcbcbc"/>
<rect x="585" y="123" width="2" height="1" fill="#bcbcbc"/>
<rect x="585" y="119" width="2" height="1" fill="#bcbcbc"/>
<rect x="585" y="115" width="2" height="1" fill="#bcbcbc"/>
<rect x="585" y="111" width="2" height="1" fill="#bcbcbc"/>
<rect x="585" y="106" width="2" height="1" fill="#bcbcbc"/>
<rect x="585" y="102" width="2" height="1" fill="#bcbcbc"/>
<rect x="585" y="98" width="2" height="1" fill="#bcbcbc"/>
<rect x="585" y="94" width="2" height="1" fill="#bcbcbc"/>
<rect x="585" y="90" width="2" height="1" fill="#bcbcbc"/>
<rect x="585" y="86" width="2" height="1" fill="#bcbcbc"/>
<rect x="585" y="82" width="2" height="1" fill="#bcbcbc"/>
<rect x="585" y="78" width="2" height="1" fill="#bcbcbc"/>
<rect x="585" y="73" width="2" height="1" fill="#bcbcbc"/>
<rect x="585" y="69" width="2" height="1" fill="#bcbcbc"/>
<rect x="585" y="65" width="2" height="1" fill="#bcbcbc"/>
<rect x="585" y="61" width="2" height="1" fill="#bcbcbc"/>
<rect x="585" y="57" width="2" height="1" fill="#bcbcbc"/>
<rect x="585" y="53" width="2" height="1" fill="#bcbcbc"/>
<rect x="585" y="49" width="2" height="1" fill="#bcbcbc"/>
<rect x="585" y="45" width="2" height="1" fill="#bcbcbc"/>
<rect x="585" y="41" width="2" height="1" fill="#bcbcbc"/>
<rect x="585" y="36" width="2" height="1" fill="#bcbcbc"/>
<rect x="585" y="390" width="2" height="1" fill="#bcbcbc"/>
<rect x="585" y="383" width="2" height="1" fill="#bcbcbc"/>
<rect x="585" y="376" width="2" height="1" fill="#bcbcbc"/>
<rect x="585" y="369" width="2" height="1" fill="#bcbcbc"/>
<rect x="585" y="362" width="2" height="1" fill="#bcbcbc"/>
<rect x="585" y="355" width="2" height="1" fill="#bcbcbc"/>
<rect x="585" y="348" width="2" height="1" fill="#bcbcbc"/>
<rect x="585" y="341" width="2" height="1" fill="#bcbcbc"/>
<rect x="585" y="335" width="2" height="1" fill="#bcbcbc"/>
<rect x="585" y="328" width="2" height="1" fill="#bcbcbc"/>
<rect x="585" y="321" width="2" height="1" fill="#bcbcbc"/>
<rect x="585" y="314" width="2" height="1" fill="#bcbcbc"/>
</g>
<g font-family="'Liberation Sans', Arial, sans-serif" font-size="10px" fill="#000">
<text x="588.8" y="287.6" font-size="9.7px" textLength="22" lengthAdjust="spacingAndGlyphs">1400</text>
<text x="588.8" y="267.0" font-size="9.7px" textLength="22" lengthAdjust="spacingAndGlyphs">1420</text>
<text x="588.8" y="246.4" font-size="9.7px" textLength="22" lengthAdjust="spacingAndGlyphs">1440</text>
<text x="588.8" y="225.8" font-size="9.7px" textLength="22" lengthAdjust="spacingAndGlyphs">1460</text>
<text x="588.8" y="205.2" font-size="9.7px" textLength="22" lengthAdjust="spacingAndGlyphs">1480</text>
<text x="588.8" y="184.6" font-size="9.7px" textLength="22" lengthAdjust="spacingAndGlyphs">1500</text>
<text x="588.8" y="164.0" font-size="9.7px" textLength="22" lengthAdjust="spacingAndGlyphs">1520</text>
<text x="588.8" y="143.4" font-size="9.7px" textLength="22" lengthAdjust="spacingAndGlyphs">1540</text>
<text x="588.8" y="122.8" font-size="9.7px" textLength="22" lengthAdjust="spacingAndGlyphs">1560</text>
<text x="588.8" y="102.2" font-size="9.7px" textLength="22" lengthAdjust="spacingAndGlyphs">1580</text>
<text x="588.8" y="81.6" font-size="9.7px" textLength="22" lengthAdjust="spacingAndGlyphs">1600</text>
<text x="588.8" y="61.0" font-size="9.7px" textLength="22" lengthAdjust="spacingAndGlyphs">1620</text>
<text x="588.5" y="379.8" font-size="9.5px" textLength="11.8" lengthAdjust="spacingAndGlyphs">1B</text>
<text x="588.5" y="359.1" font-size="9.5px" textLength="11.8" lengthAdjust="spacingAndGlyphs">2B</text>
<text x="588.5" y="338.5" font-size="9.5px" textLength="11.8" lengthAdjust="spacingAndGlyphs">3B</text>
<text x="588.5" y="317.8" font-size="9.5px" textLength="11.8" lengthAdjust="spacingAndGlyphs">4B</text>
<text x="47.2" y="304.5" font-size="9.5px" textLength="10.6" lengthAdjust="spacingAndGlyphs">10</text>
<text x="72.2" y="304.5" font-size="9.5px" textLength="10.6" lengthAdjust="spacingAndGlyphs">17</text>
<text x="97.2" y="304.5" font-size="9.5px" textLength="10.6" lengthAdjust="spacingAndGlyphs">24</text>
<text x="142.5" y="304.5" text-anchor="middle" font-size="9.5px">7</text>
<text x="162.2" y="304.5" font-size="9.5px" textLength="10.6" lengthAdjust="spacingAndGlyphs">14</text>
<text x="187.2" y="304.5" font-size="9.5px" textLength="10.6" lengthAdjust="spacingAndGlyphs">22</text>
<text x="207.2" y="304.5" font-size="9.5px" textLength="10.6" lengthAdjust="spacingAndGlyphs">28</text>
<text x="257.2" y="304.5" font-size="9.5px" textLength="10.6" lengthAdjust="spacingAndGlyphs">11</text>
<text x="282.2" y="304.5" font-size="9.5px" textLength="10.6" lengthAdjust="spacingAndGlyphs">19</text>
<text x="302.2" y="304.5" font-size="9.5px" textLength="10.6" lengthAdjust="spacingAndGlyphs">25</text>
<text x="352.2" y="304.5" font-size="9.5px" textLength="10.6" lengthAdjust="spacingAndGlyphs">11</text>
<text x="377.2" y="304.5" font-size="9.5px" textLength="10.6" lengthAdjust="spacingAndGlyphs">18</text>
<text x="402.2" y="304.5" font-size="9.5px" textLength="10.6" lengthAdjust="spacingAndGlyphs">25</text>
<text x="452.5" y="304.5" text-anchor="middle" font-size="9.5px">8</text>
<text x="472.2" y="304.5" font-size="9.5px" textLength="10.6" lengthAdjust="spacingAndGlyphs">15</text>
<text x="497.2" y="304.5" font-size="9.5px" textLength="10.6" lengthAdjust="spacingAndGlyphs">22</text>
<text x="552.5" y="304.5" text-anchor="middle" font-size="9.5px">6</text>
<text x="572.2" y="304.5" font-size="9.5px" textLength="10.6" lengthAdjust="spacingAndGlyphs">13</text>
<text x="27.5" y="304.5" text-anchor="middle" font-weight="bold" font-size="11px">Dec</text>
<text x="127.5" y="304.5" text-anchor="middle" font-weight="bold" font-size="11px">2013</text>
<text x="232.5" y="304.5" text-anchor="middle" font-weight="bold" font-size="11px">Feb</text>
<text x="327.5" y="304.5" text-anchor="middle" font-weight="bold" font-size="11px">Mar</text>
<text x="427.5" y="304.5" text-anchor="middle" font-weight="bold" font-size="11px">Apr</text>
<text x="537.5" y="304.5" text-anchor="middle" font-weight="bold" font-size="11px">May</text>
<text x="47.2" y="409.5" font-size="9.5px" textLength="10.6" lengthAdjust="spacingAndGlyphs">10</text>
<text x="72.2" y="409.5" font-size="9.5px" textLength="10.6" lengthAdjust="spacingAndGlyphs">17</text>
<text x="97.2" y="409.5" font-size="9.5px" textLength="10.6" lengthAdjust="spacingAndGlyphs">24</text>
<text x="142.5" y="409.5" text-anchor="middle" font-size="9.5px">7</text>
<text x="162.2" y="409.5" font-size="9.5px" textLength="10.6" lengthAdjust="spacingAndGlyphs">14</text>
<text x="187.2" y="409.5" font-size="9.5px" textLength="10.6" lengthAdjust="spacingAndGlyphs">22</text>
<text x="207.2" y="409.5" font-size="9.5px" textLength="10.6" lengthAdjust="spacingAndGlyphs">28</text>
<text x="257.2" y="409.5" font-size="9.5px" textLength="10.6" lengthAdjust="spacingAndGlyphs">11</text>
<text x="282.2" y="409.5" font-size="9.5px" textLength="10.6" lengthAdjust="spacingAndGlyphs">19</text>
<text x="302.2" y="409.5" font-size="9.5px" textLength="10.6" lengthAdjust="spacingAndGlyphs">25</text>
<text x="352.2" y="409.5" font-size="9.5px" textLength="10.6" lengthAdjust="spacingAndGlyphs">11</text>
<text x="377.2" y="409.5" font-size="9.5px" textLength="10.6" lengthAdjust="spacingAndGlyphs">18</text>
<text x="402.2" y="409.5" font-size="9.5px" textLength="10.6" lengthAdjust="spacingAndGlyphs">25</text>
<text x="452.5" y="409.5" text-anchor="middle" font-size="9.5px">8</text>
<text x="472.2" y="409.5" font-size="9.5px" textLength="10.6" lengthAdjust="spacingAndGlyphs">15</text>
<text x="497.2" y="409.5" font-size="9.5px" textLength="10.6" lengthAdjust="spacingAndGlyphs">22</text>
<text x="552.5" y="409.5" text-anchor="middle" font-size="9.5px">6</text>
<text x="572.2" y="409.5" font-size="9.5px" textLength="10.6" lengthAdjust="spacingAndGlyphs">13</text>
<text x="27.5" y="409.5" text-anchor="middle" font-weight="bold" font-size="11px">Dec</text>
<text x="127.5" y="409.5" text-anchor="middle" font-weight="bold" font-size="11px">2013</text>
<text x="232.5" y="409.5" text-anchor="middle" font-weight="bold" font-size="11px">Feb</text>
<text x="327.5" y="409.5" text-anchor="middle" font-weight="bold" font-size="11px">Mar</text>
<text x="427.5" y="409.5" text-anchor="middle" font-weight="bold" font-size="11px">Apr</text>
<text x="537.5" y="409.5" text-anchor="middle" font-weight="bold" font-size="11px">May</text>
</g>
<rect x="25" y="35" width="135" height="12" fill="#fff"/>
<rect x="25" y="47" width="88" height="11" fill="#fff"/>
<rect x="25" y="58" width="83" height="11" fill="#fff"/>
<g shape-rendering="crispEdges" fill="#000"><rect x="28" y="37" width="1" height="7"/><rect x="27" y="38" width="3" height="5"/><rect x="28" y="39" width="1" height="3" fill="#fff"/><rect x="31" y="39" width="1" height="6"/><rect x="30" y="39" width="3" height="5"/><rect x="34" y="37" width="1" height="8"/><rect x="33" y="38" width="3" height="6"/><rect x="34" y="39" width="1" height="4" fill="#fff"/></g>
<text x="39.8" y="45" font-family="'DejaVu Sans', Verdana, sans-serif" font-size="9.7px" fill="#000" textLength="116.5" lengthAdjust="spacing">$SPX (Daily) 1633.77</text>
<rect x="27" y="51" width="9" height="2" fill="#ff0000" shape-rendering="crispEdges"/>
<text x="38" y="55.6" font-family="'Liberation Sans', Arial, sans-serif" font-size="9.7px" fill="#ff0000" stroke="#ff0000" stroke-width="0.3" textLength="73" lengthAdjust="spacingAndGlyphs">MA(200) 1472.18</text>
<rect x="27" y="61" width="9" height="2" fill="#000090" shape-rendering="crispEdges"/>
<text x="38" y="66" font-family="'Liberation Sans', Arial, sans-serif" font-size="9.7px" fill="#000090" stroke="#000090" stroke-width="0.3" textLength="68" lengthAdjust="spacingAndGlyphs">MA(50) 1572.38</text>
<rect x="25" y="309" width="144" height="12" fill="#fff"/>
<rect x="25" y="321" width="110" height="11" fill="#fff"/>
<g fill="#6e6e6e"><rect x="27.2" y="316" width="2.2" height="5"/><rect x="30" y="311" width="2.5" height="10"/><rect x="33.1" y="313" width="2.5" height="8"/></g>
<text x="39.7" y="319.2" font-family="'DejaVu Sans', Verdana, sans-serif" font-size="9.7px" fill="#000" textLength="125.5" lengthAdjust="spacing">Volume 1,984,999,040</text>
<rect x="27" y="325" width="9" height="2" fill="#000090" shape-rendering="crispEdges"/>
<text x="38" y="329.8" font-family="'Liberation Sans', Arial, sans-serif" font-size="9.7px" fill="#000090" stroke="#000090" stroke-width="0.3" textLength="93.5" lengthAdjust="spacingAndGlyphs">MA(50) 2,399,074,816</text>
<g font-family="'Liberation Sans', Arial, sans-serif" fill="#000">
<text x="24.8" y="19.8" font-size="14px" font-weight="bold" textLength="32.5" lengthAdjust="spacingAndGlyphs">$SPX</text>
<text x="65.2" y="19.3" font-size="11.3px" textLength="122.5" lengthAdjust="spacingAndGlyphs">S&amp;P 500 Large Cap Index</text>
<text x="194" y="19.3" font-size="9px" textLength="23" lengthAdjust="spacingAndGlyphs">INDX</text>
<text x="584.5" y="18.7" font-size="11.5px" fill="#505050" text-anchor="end" textLength="90" lengthAdjust="spacingAndGlyphs">© StockCharts.com</text>
<text x="25" y="32" font-size="10px" textLength="59.8" lengthAdjust="spacing">13-May-2013</text>
<text x="102.2" y="32" font-size="11px" font-weight="bold" textLength="27.6" lengthAdjust="spacingAndGlyphs">Open</text>
<text x="134.2" y="32" font-size="10px" textLength="37.7" lengthAdjust="spacing">1632.10</text>
<text x="178.9" y="32" font-size="11px" font-weight="bold" textLength="23.2" lengthAdjust="spacingAndGlyphs">High</text>
<text x="206.7" y="32" font-size="10px" textLength="37.5" lengthAdjust="spacing">1636.00</text>
<text x="251.5" y="32" font-size="11px" font-weight="bold" textLength="21.9" lengthAdjust="spacingAndGlyphs">Low</text>
<text x="279.1" y="32" font-size="10px" textLength="37.6" lengthAdjust="spacing">1626.74</text>
<text x="323.2" y="32" font-size="11px" font-weight="bold" textLength="30.2" lengthAdjust="spacingAndGlyphs">Close</text>
<text x="359.1" y="32" font-size="10px" textLength="36.4" lengthAdjust="spacing">1633.77</text>
<text x="403.5" y="32" font-size="11px" font-weight="bold" textLength="41.3" lengthAdjust="spacingAndGlyphs">Volume</text>
<text x="448.7" y="32" font-size="10px" textLength="22.4" lengthAdjust="spacing">2.0B</text>
<text x="477.1" y="32" font-size="11px" font-weight="bold" textLength="20.6" lengthAdjust="spacingAndGlyphs">Chg</text>
<text x="501.9" y="32" font-size="10px" textLength="72.5" lengthAdjust="spacing">+0.07 (+0.00%)</text>
</g>
<path d="M577 30.8 L584 30.8 L580.5 26.3 Z" fill="#2a6a2a"/>
<g filter="url(#sh)"><rect x="394.5" y="37.5" width="61" height="50.5" fill="#fff" stroke="#000" stroke-width="1"/></g>
<g shape-rendering="crispEdges">
<rect x="395" y="76.5" width="60" height="1" fill="#dadada"/><rect x="443.5" y="38" width="1.5" height="50" fill="#dadada"/>
<rect x="403.2" y="64.2" width="2" height="20" fill="#000"/>
<rect x="399.2" y="64.2" width="10" height="20" fill="#000"/>
<rect x="401.2" y="66.2" width="6" height="16" fill="#fff"/>
<rect x="413.2" y="50.2" width="2" height="22" fill="#000"/>
<rect x="409.2" y="50.2" width="10" height="16" fill="#000"/>
<rect x="411.2" y="52.2" width="6" height="12" fill="#fff"/>
<rect x="423.2" y="46.2" width="2" height="26" fill="#d9002f"/>
<rect x="419.2" y="50.2" width="10" height="14" fill="#d9002f"/>
<rect x="433.2" y="48.2" width="2" height="22" fill="#000"/>
<rect x="429.2" y="48.2" width="10" height="16" fill="#000"/>
<rect x="431.2" y="50.2" width="6" height="12" fill="#fff"/>
<rect x="443.2" y="44.2" width="2" height="20" fill="#000"/>
<rect x="439.2" y="48.2" width="10" height="6" fill="#000"/>
<rect x="441.2" y="50.2" width="6" height="2" fill="#fff"/>
</g>
<g fill="none" stroke="#0a0af5" stroke-width="3" stroke-linecap="round" stroke-linejoin="round">
<path d="M456.5 63.6 L552.5 47" stroke-linecap="butt" stroke-width="3.3"/>
<path d="M541.4 43.4 L553.4 46.8 L543.6 53.8" stroke-width="3.2"/>
</g>
<g filter="url(#sh)"><rect x="501.5" y="250.5" width="111" height="39.5" fill="url(#bg)" stroke="#2b2b2b" stroke-width="1"/></g>
<g font-family="'Liberation Sans', Arial, sans-serif" font-weight="bold" fill="#141414" font-size="13px" text-anchor="middle">
<text x="556" y="265.8" textLength="67.5" lengthAdjust="spacingAndGlyphs">17% below</text>
<text x="556" y="283.3" textLength="89.5" lengthAdjust="spacingAndGlyphs">the 50-day MA</text>
</g>
<g fill="none" stroke="#0a0af5" stroke-width="3" stroke-linecap="round" stroke-linejoin="round">
<path d="M574.2 290.5 L580.2 342" stroke-linecap="butt" stroke-width="3.3"/>
</g>
<path d="M575.3 338.5 L579.7 339.2 L584 337.3 L580.9 346.4 Z" fill="#0a0af5" stroke="#0a0af5" stroke-width="1.2" stroke-linejoin="round"/>
</svg>
</body></html>
